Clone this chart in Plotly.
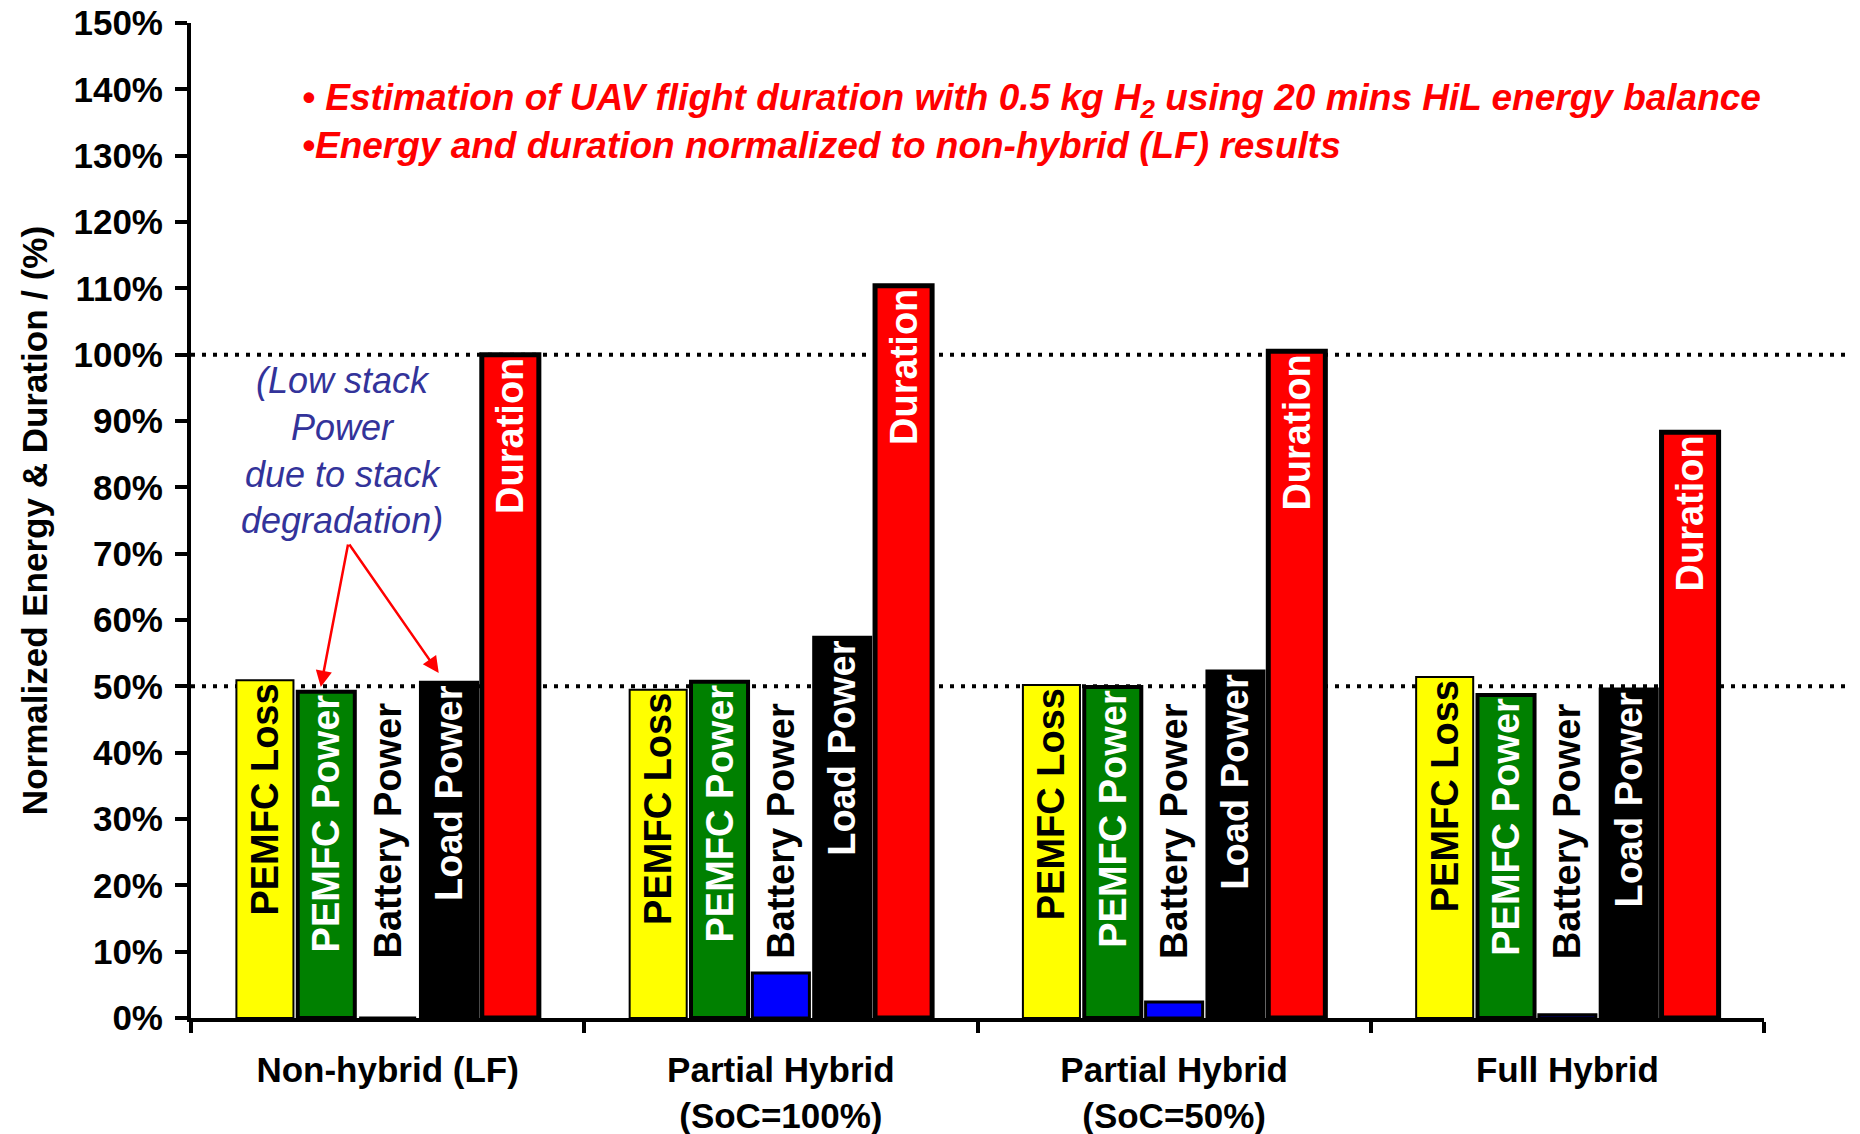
import plotly.graph_objects as go

# groups along the x axis
categories = ["Non-hybrid (LF)", "Partial Hybrid<br>(SoC=100%)",
              "Partial Hybrid<br>(SoC=50%)", "Full Hybrid"]

# normalized energy / duration, % of non-hybrid result
pemfc_loss = [50.9, 49.5, 50.2, 51.4]
pemfc_power = [49.2, 50.7, 49.9, 48.7]
battery_power = [0.0, 6.8, 2.4, 0.5]
load_power = [50.6, 57.4, 52.3, 49.6]
duration = [100.0, 110.4, 100.5, 88.3]

series_names = ["PEMFC Loss", "PEMFC Power", "Battery Power", "Load Power", "Duration"]
y_ticks = list(range(0, 151, 10))
y_tick_text = [f"{v}%" for v in y_ticks]
ref_levels = [50, 100]

FONT = "Arial, 'Liberation Sans', sans-serif"

fills = ["#FFFF00", "#008000", "#0000FF", "#000000", "#FF0000"]
text_cols = ["black", "white", "black", "white", "white"]
edge_w = [2, 4, 3, 3, 5]

fig = go.Figure()
for name, vals, fc, tc, lw in zip(series_names,
                                  [pemfc_loss, pemfc_power, battery_power, load_power, duration],
                                  fills, text_cols, edge_w):
    show_text = name != "Battery Power"
    fig.add_trace(go.Bar(
        x=categories, y=vals, name=name,
        marker=dict(color=fc, line=dict(color="black", width=lw)),
        text=[name] * len(vals) if show_text else None,
        textposition="inside", insidetextanchor="end", textangle=-90,
        textfont=dict(family=FONT, size=38, color=tc, weight="bold"),
        cliponaxis=False,
    ))

# battery labels float above the small blue bars
for cat in categories:
    fig.add_annotation(x=cat, y=47.8, xref="x", yref="y", text="Battery Power",
                       textangle=-90, showarrow=False, yanchor="top",
                       font=dict(family=FONT, size=38, color="black", weight="bold"))

# dotted reference lines at 50% and 100%
for lvl in ref_levels:
    fig.add_shape(type="line", xref="paper", yref="y", x0=0, x1=1.07, y0=lvl, y1=lvl,
                  line=dict(color="black", width=4, dash="4px,7px"), layer="below")

# red notes at top
fig.add_annotation(
    xref="paper", yref="y", x=0.069, y=135.1, xanchor="left", align="left", showarrow=False,
    text="<i>• Estimation of UAV flight duration with 0.5 kg H<sub>2</sub> using 20 mins HiL energy balance"
         "<br>•Energy and duration normalized to non-hybrid (LF) results</i>",
    font=dict(family=FONT, size=37, color="#FF0000", weight="bold"))

# blue comment with arrows
fig.add_annotation(
    xref="x", yref="y", x=-0.116, y=85.6, showarrow=False, align="center",
    text="<i>(Low stack<br>Power<br>due to stack<br>degradation)</i>",
    font=dict(family=FONT, size=36, color="#33339A"))
for hx, hy in [(-0.17, 49.9), (0.13, 52.0)]:
    fig.add_annotation(xref="x", yref="y", axref="x", ayref="y", x=hx, y=hy,
                       ax=-0.1, ay=71.6, text="", showarrow=True,
                       arrowhead=2, arrowsize=1.3, arrowwidth=2.5, arrowcolor="#FF0000")

fig.update_layout(
    width=1852, height=1126,
    barmode="group", bargap=0.22, bargroupgap=0.07,
    showlegend=False,
    plot_bgcolor="white", paper_bgcolor="white",
    margin=dict(l=183, r=96, t=15, b=116),
    font=dict(family=FONT, color="black"),
)
fig.update_xaxes(
    showline=True, linecolor="black", linewidth=4, showgrid=False, automargin=False,
    ticks="outside", tickson="boundaries", ticklen=11, tickwidth=4, tickcolor="black",
    tickfont=dict(family=FONT, size=35, color="black", weight="bold"),
    ticklabelstandoff=18,
)
fig.update_yaxes(
    range=[0, 150], tickmode="array", tickvals=y_ticks, ticktext=y_tick_text,
    automargin=False, ticklabeloverflow="allow",
    showline=True, linecolor="black", linewidth=4, showgrid=False, zeroline=False,
    ticks="outside", ticklen=12, tickwidth=4, tickcolor="black",
    tickfont=dict(family=FONT, size=35, color="black", weight="bold"), ticklabelstandoff=5,
    title=dict(text="Normalized Energy & Duration / (%)",
               font=dict(family=FONT, size=35, color="black", weight="bold"), standoff=16),
)

fig.write_html("out.html")
